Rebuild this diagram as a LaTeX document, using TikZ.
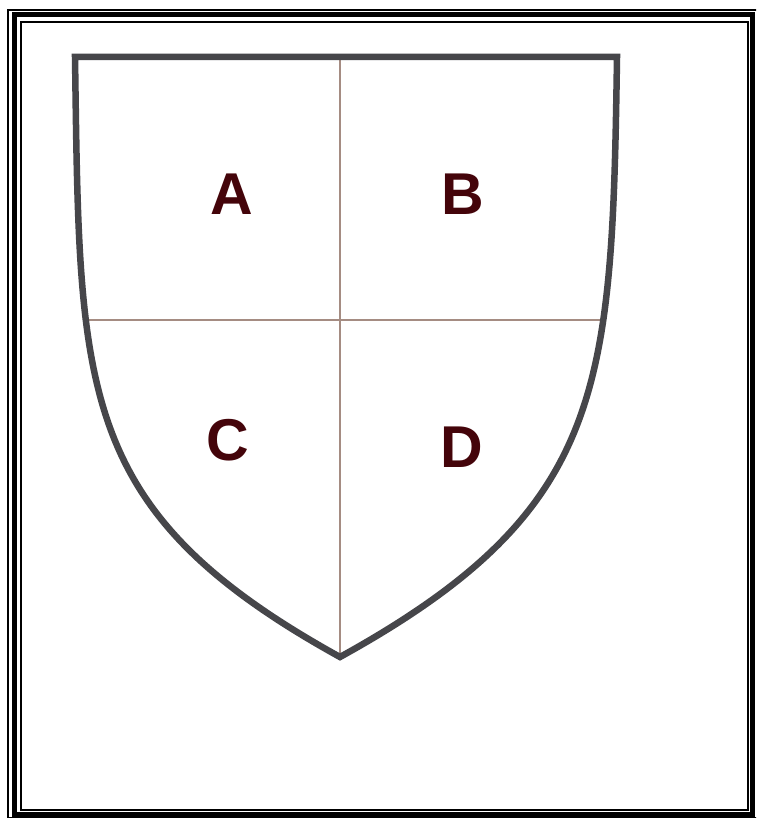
\documentclass[tikz,border=0pt]{standalone}
\usepackage{fontspec}
\setmainfont{Liberation Sans}
\definecolor{shieldgray}{RGB}{70,70,74}
\definecolor{divline}{RGB}{165,140,130}
\definecolor{lettercol}{RGB}{68,4,10}
\begin{document}
\begin{tikzpicture}[x=1pt,y=-1pt,
            edge/.style={line width=6.5pt, draw=shieldgray, line join=miter},
            divider/.style={line width=1.2pt, draw=divline},
            letter/.style={font=\fontsize{59}{61}\selectfont\bfseries, text=lettercol, inner sep=0pt},
            thinframe/.style={draw=black, line width=1.3pt},
            thickframe/.style={draw=black, line width=5pt}
            ]
            \useasboundingbox (0,0) rectangle (756,818);
            \clip (0,0) rectangle (756,818);
            \fill[white] (0,0) rectangle (756,818);

            % frame
            \draw[thinframe] (8,10) rectangle (758,817.5);
            \draw[thickframe] (14.5,15) rectangle (752.5,814);
            \draw[thinframe] (21,22) rectangle (748,810);

            \coordinate (tl) at (75,57);
            \coordinate (tr) at (617,57);
            \coordinate (tm) at (340,57);
            \coordinate (tip) at (340,657);
            \coordinate (ml) at (86,320);
            \coordinate (mr) at (605,320);

            \draw[divider] (ml) -- (mr);
            \draw[divider] (tm) -- (tip);

            % shield
            \draw[edge] (tl) -- (tr) .. controls (612,390) and (606,510) .. (tip)
                .. controls (74,510) and (80,390) .. cycle;

            \node[letter] (A) at (232,194) {A};
            \node[letter] (B) at (463,194) {B};
            \node[letter] (C) at (228,440) {C};
            \node[letter] (D) at (462,447) {D};

            \end{tikzpicture}
\end{document}
